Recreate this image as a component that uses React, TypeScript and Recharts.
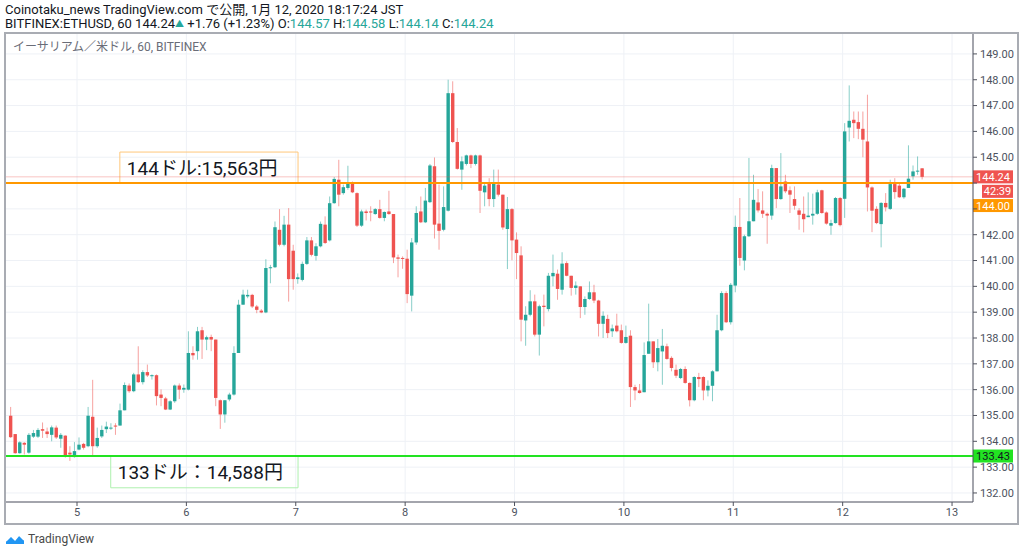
import React from 'react';
import { ComposedChart, Bar, XAxis, YAxis, CartesianGrid, ReferenceLine, ReferenceArea } from 'recharts';

// hourly ETH/USD candles (BITFINEX, 60), Jan 4 -> Jan 12 2020
const OPEN = [
  134.99, 134.28, 133.54, 133.94, 133.56, 134.18, 134.18, 134.47, 134.38, 134.25,
  134.53, 134.1, 134.22, 133.56, 133.39, 133.68, 133.9, 133.81, 134.95, 133.81,
  134.19, 134.47, 134.5, 134.61, 134.61, 135.2, 136.16, 135.94, 136.59, 136.29,
  136.68, 136.52, 136.56, 135.81, 135.66, 135.23, 135.55, 136.16, 136.0, 136.0,
  137.42, 137.49, 138.3, 137.94, 138.04, 137.94, 135.59, 135.04, 135.62, 135.81,
  137.42, 139.29, 139.61, 139.67, 139.22, 139.06, 138.99, 140.71, 140.74, 142.19,
  141.61, 142.39, 141.38, 140.28, 140.25, 140.87, 141.78, 141.18, 141.55, 142.39,
  141.78, 143.22, 144.13, 143.61, 143.81, 144.0, 143.61, 142.35, 142.9, 142.9,
  142.8, 142.99, 142.65, 142.9, 142.8, 141.12, 141.1, 141.07, 139.64, 141.7,
  142.9, 142.48, 143.26, 144.65, 142.43, 142.19, 142.93, 147.48, 145.59, 144.52,
  144.74, 145.07, 144.74, 145.07, 143.64, 144.0, 143.38, 143.94, 143.55, 142.22,
  142.99, 141.81, 141.2, 138.68, 138.9, 139.42, 138.13, 139.25, 139.12, 140.39,
  140.49, 139.87, 140.9, 140.41, 139.94, 140.0, 139.2, 139.51, 139.77, 139.45,
  138.55, 138.74, 138.26, 138.48, 138.3, 137.81, 138.09, 136.1, 135.97, 135.9,
  137.39, 137.87, 137.06, 137.48, 137.68, 137.23, 136.77, 136.45, 136.8, 136.26,
  135.59, 136.49, 136.49, 135.97, 136.15, 136.71, 138.3, 139.74, 138.61, 140.03,
  142.3, 141.0, 141.94, 142.52, 143.25, 142.94, 142.81, 142.74, 144.58, 143.38,
  144.06, 143.72, 143.38, 142.94, 142.81, 142.68, 142.74, 142.81, 143.72, 142.86,
  142.35, 142.45, 143.42, 143.39, 146.15, 146.45, 146.36, 146.1, 145.61, 143.83,
  143.0, 142.41, 143.23, 143.0, 143.96, 143.9, 143.45, 143.81, 144.26, 144.45,
  144.57,
];

const HIGH = [
  135.33, 134.28, 134.0, 133.97, 134.32, 134.44, 134.51, 134.73, 134.53, 134.61,
  134.61, 134.32, 134.23, 133.81, 133.97, 134.15, 133.94, 135.33, 136.38, 134.53,
  134.61, 134.76, 134.7, 134.7, 135.46, 136.28, 136.24, 136.65, 137.68, 136.75,
  136.97, 136.59, 136.59, 136.01, 135.72, 135.59, 136.2, 136.24, 136.2, 138.26,
  137.68, 138.43, 138.43, 138.09, 138.13, 137.94, 135.62, 135.59, 135.88, 137.68,
  139.48, 139.87, 139.87, 139.71, 139.28, 139.12, 141.05, 140.83, 142.51, 142.99,
  142.73, 143.03, 141.61, 140.5, 140.96, 141.91, 141.91, 141.67, 142.51, 142.71,
  143.48, 144.23, 144.9, 143.94, 144.67, 144.06, 143.64, 142.97, 142.97, 143.1,
  143.03, 143.35, 142.9, 143.7, 142.8, 141.23, 141.16, 141.42, 141.87, 143.1,
  143.48, 143.81, 144.74, 144.99, 143.94, 143.87, 148.0, 147.94, 146.13, 145.03,
  145.1, 145.1, 145.1, 145.1, 144.0, 144.19, 144.52, 144.52, 143.55, 143.46,
  143.03, 142.09, 141.55, 139.23, 139.85, 139.68, 139.29, 139.68, 140.52, 141.23,
  140.65, 141.32, 140.97, 140.41, 140.19, 140.0, 139.61, 140.19, 140.06, 139.48,
  139.03, 138.9, 138.52, 138.94, 138.52, 138.48, 138.3, 136.19, 136.22, 137.83,
  139.33, 137.87, 137.96, 138.35, 137.78, 137.29, 136.97, 136.84, 136.9, 136.28,
  136.52, 136.65, 136.52, 136.36, 136.75, 138.9, 139.81, 139.81, 140.13, 142.74,
  143.42, 142.0, 144.97, 144.32, 143.77, 143.68, 142.86, 144.71, 144.58, 145.16,
  144.32, 143.87, 143.87, 143.03, 143.48, 143.64, 143.59, 143.74, 143.74, 142.9,
  142.58, 143.46, 143.46, 146.32, 147.78, 146.77, 146.77, 146.77, 147.42, 143.87,
  143.1, 143.26, 143.61, 144.13, 144.19, 144.04, 143.81, 145.46, 144.68, 145.03,
  144.58,
];

const LOW = [
  134.13, 133.52, 133.52, 133.49, 133.52, 134.13, 134.13, 134.13, 134.13, 134.0,
  134.09, 133.75, 133.37, 133.24, 133.37, 133.65, 133.68, 133.77, 133.43, 133.75,
  134.13, 134.32, 134.44, 134.25, 134.61, 135.2, 135.88, 135.9, 136.26, 136.2,
  136.49, 136.39, 135.39, 135.36, 135.21, 135.21, 135.49, 135.64, 135.88, 135.97,
  137.16, 137.16, 137.19, 137.53, 137.49, 135.36, 134.48, 134.72, 135.55, 135.77,
  137.42, 139.29, 139.54, 139.16, 138.96, 138.96, 138.96, 140.12, 140.71, 141.55,
  141.55, 139.41, 139.87, 140.1, 140.19, 140.83, 141.16, 141.0, 141.51, 141.64,
  141.74, 143.2, 143.1, 143.55, 143.74, 143.61, 142.3, 142.3, 142.55, 142.52,
  142.77, 142.62, 142.52, 142.77, 140.9, 140.35, 140.68, 139.35, 139.03, 141.61,
  142.45, 142.45, 143.23, 141.85, 141.42, 142.13, 142.9, 145.55, 144.52, 143.74,
  144.68, 144.58, 144.68, 142.84, 143.1, 143.1, 143.07, 143.48, 142.19, 140.67,
  141.01, 140.28, 137.87, 137.7, 138.84, 138.06, 137.32, 138.45, 139.03, 140.0,
  139.48, 139.68, 140.39, 139.64, 139.68, 138.77, 138.9, 139.48, 139.35, 138.06,
  138.0, 138.0, 138.04, 138.22, 137.78, 137.78, 135.33, 135.59, 135.85, 135.9,
  137.39, 136.84, 136.71, 136.19, 137.16, 136.71, 136.45, 136.41, 136.23, 135.35,
  135.55, 136.1, 135.59, 135.74, 135.55, 136.71, 138.26, 138.58, 138.52, 139.77,
  140.8, 140.62, 141.91, 142.52, 142.86, 142.65, 141.65, 142.58, 143.03, 143.35,
  143.61, 142.84, 142.97, 142.19, 142.09, 142.68, 142.39, 142.77, 142.81, 142.39,
  142.0, 142.43, 142.32, 142.65, 145.61, 145.74, 145.7, 145.0, 142.9, 142.1,
  142.41, 141.51, 142.9, 142.96, 143.39, 143.42, 143.39, 143.81, 144.13, 144.32,
  144.14,
];

const CLOSE = [
  134.16, 133.54, 133.96, 133.87, 134.25, 134.32, 134.44, 134.41, 134.28, 134.54,
  134.15, 134.25, 133.43, 133.49, 133.62, 133.87, 133.75, 134.99, 133.81, 134.13,
  134.44, 134.57, 134.53, 134.57, 135.2, 136.18, 135.94, 136.59, 136.29, 136.68,
  136.55, 136.56, 135.75, 135.68, 135.23, 135.55, 136.16, 136.0, 136.07, 137.42,
  137.33, 138.26, 137.94, 138.03, 137.94, 135.68, 135.04, 135.59, 135.81, 137.42,
  139.29, 139.68, 139.67, 139.22, 139.09, 138.99, 140.71, 140.74, 142.29, 141.61,
  142.39, 140.28, 140.28, 140.35, 140.87, 141.78, 141.22, 141.55, 142.42, 141.68,
  143.22, 144.16, 143.55, 143.84, 144.0, 143.64, 142.35, 142.9, 142.84, 142.86,
  142.99, 142.65, 142.88, 142.8, 141.12, 141.07, 141.07, 139.7, 141.7, 142.84,
  142.48, 143.32, 144.68, 142.39, 142.15, 143.07, 147.48, 145.59, 144.55, 144.84,
  145.07, 144.74, 145.07, 143.7, 143.9, 143.38, 144.0, 143.55, 142.28, 142.99,
  141.78, 141.29, 138.71, 138.9, 139.42, 138.13, 139.23, 139.2, 140.41, 140.52,
  139.9, 140.88, 140.41, 139.94, 140.03, 139.2, 139.51, 139.77, 139.45, 138.55,
  138.86, 138.19, 138.37, 138.26, 137.81, 138.04, 136.1, 135.97, 135.87, 137.34,
  137.87, 137.06, 137.61, 137.7, 137.19, 136.84, 136.54, 136.8, 136.26, 135.59,
  136.49, 136.41, 135.97, 136.15, 136.71, 138.3, 139.74, 138.61, 140.06, 142.3,
  141.1, 141.94, 142.52, 143.35, 142.94, 142.81, 142.74, 144.58, 143.38, 143.87,
  143.68, 143.55, 143.12, 142.77, 142.6, 142.74, 142.81, 143.64, 142.84, 142.43,
  142.45, 143.42, 142.37, 146.0, 146.41, 146.32, 146.1, 145.68, 143.83, 142.93,
  142.45, 143.23, 143.06, 143.96, 143.65, 143.45, 143.78, 144.17, 144.45, 144.48,
  144.24,
];

const DAY_LABELS = [5, 6, 7, 8, 9, 10, 11, 12, 13];
const FIRST_MIDNIGHT = 14.5; // candle index of Jan 5 00:00
const PRICE_TICKS = [132, 133, 134, 135, 136, 137, 138, 139, 140, 141, 142, 143, 144, 145, 146, 147, 148, 149];
const COVERED_TICKS = [143, 144]; // hidden behind the price badges

const LEVEL_HIGH = 144.0;
const LEVEL_LOW = 133.43;
const LAST_PRICE = CLOSE[CLOSE.length - 1];
const CHANGE = 1.76;
const CHANGE_PCT = 1.23;

const UP = '#26a69a';
const DOWN = '#ef5350';
const ORANGE = '#ff9800';
const GREEN = '#22e322';
const FONT = 'Roboto, "Noto Sans CJK JP", sans-serif';

const data = OPEN.map((o, i) => ({ i, o, h: HIGH[i], l: LOW[i], c: CLOSE[i] }));
const dayTicks = DAY_LABELS.map((_, k) => FIRST_MIDNIGHT + 24 * k);

function Candle(props: any) {
  const { x, y, width, height, payload } = props;
  if (!payload) return null;
  const top = Math.min(y, y + height);
  const bottom = Math.max(y, y + height);
  const { o, h, l, c } = payload;
  const span = h - l || 1;
  const py = (p: number) => top + ((h - p) / span) * (bottom - top);
  const color = c >= o ? UP : DOWN;
  const cx = x + width / 2;
  const bodyTop = py(Math.max(o, c));
  const bodyH = Math.max(1, py(Math.min(o, c)) - bodyTop);
  return (
    <g>
      <line x1={cx} x2={cx} y1={top} y2={bottom} stroke={color} strokeOpacity={0.55} strokeWidth={1} />
      <rect x={cx - 1.7} y={bodyTop} width={3.4} height={bodyH} fill={color} />
    </g>
  );
}

function Badge({ viewBox, text, fill, color, dy, inset = 0 }: any) {
  if (!viewBox) return null;
  const x = viewBox.x + viewBox.width + inset;
  const y = viewBox.y + dy;
  const w = 40 - inset;
  return (
    <g>
      <rect x={x} y={y - 6.5} width={w} height={13} fill={fill} />
      <text x={x + w / 2} y={y + 4} textAnchor="middle" fontSize={11} fill={color} fontFamily={FONT}>
        {text}
      </text>
    </g>
  );
}

function LastPriceLabel(props: any) {
  return (
    <g>
      <Badge {...props} text={LAST_PRICE.toFixed(2)} fill={DOWN} color="#fff" dy={0} />
      <Badge {...props} text="42:39" fill={DOWN} color="#fff" dy={14.5} inset={9} />
    </g>
  );
}

function BoxText({ viewBox, text }: any) {
  if (!viewBox) return null;
  return (
    <text x={viewBox.x + 7} y={viewBox.y + viewBox.height / 2 + 7} fontSize={19} fill="#131722" fontFamily={FONT}>
      {text}
    </text>
  );
}

export default function App() {
  const last = data.length - 1;
  const teal = { color: UP };
  return (
    <div style={{ position: 'absolute', left: 0, top: 0, width: 1024, height: 552, background: '#fff', fontFamily: FONT, overflow: 'hidden' }}>
      <div style={{ position: 'absolute', left: 5, top: 3, fontSize: 13, lineHeight: '14px', color: '#131722', whiteSpace: 'nowrap' }}>
        Coinotaku_news TradingView.com で公開, 1月 12, 2020 18:17:24 JST
      </div>
      <div style={{ position: 'absolute', left: 5, top: 17, fontSize: 13, lineHeight: '14px', color: '#131722', whiteSpace: 'nowrap' }}>
        BITFINEX:ETHUSD, 60 {LAST_PRICE.toFixed(2)}
        <span style={{ ...teal, fontSize: 9, verticalAlign: 'top' }}>▲</span> +{CHANGE.toFixed(2)} (+{CHANGE_PCT.toFixed(2)}%) O:
        <span style={teal}>{OPEN[last].toFixed(2)}</span> H:<span style={teal}>{HIGH[last].toFixed(2)}</span> L:
        <span style={teal}>{LOW[last].toFixed(2)}</span> C:<span style={teal}>{CLOSE[last].toFixed(2)}</span>
      </div>

      <ComposedChart
        width={1024}
        height={552}
        data={data}
        margin={{ top: 33, right: 6, bottom: 28, left: 5 }}
        style={{ position: 'absolute', left: 0, top: 0 }}
      >
        <CartesianGrid stroke="#eef1f6" strokeWidth={1} />
        <XAxis
          dataKey="i"
          type="number"
          domain={[-1.3, 211.1]}
          ticks={dayTicks}
          tickFormatter={(v: number) => String(DAY_LABELS[Math.round((v - FIRST_MIDNIGHT) / 24)])}
          allowDataOverflow
          height={22}
          axisLine={{ stroke: '#50535e' }}
          tickLine={{ stroke: '#50535e' }}
          tickSize={4}
          tick={{ fontSize: 11, fill: '#4c525e', fontFamily: FONT }}
        />
        <YAxis
          orientation="right"
          type="number"
          domain={[131.65, 149.81]}
          ticks={PRICE_TICKS}
          tickFormatter={(v: number) => (COVERED_TICKS.includes(v) ? '' : v.toFixed(2))}
          allowDataOverflow
          width={45}
          axisLine={{ stroke: '#50535e' }}
          tickLine={{ stroke: '#50535e' }}
          tickSize={4}
          tickMargin={3}
          tick={{ fontSize: 11, fill: '#4c525e', fontFamily: FONT }}
        />
        <Bar dataKey={(d: any) => [d.l, d.h]} shape={<Candle />} barSize={4} isAnimationActive={false} />
        <ReferenceLine y={LAST_PRICE} stroke={DOWN} strokeOpacity={0.35} strokeWidth={1} label={<LastPriceLabel />} />
        <ReferenceLine
          y={LEVEL_HIGH}
          stroke={ORANGE}
          strokeWidth={2}
          label={<Badge text={LEVEL_HIGH.toFixed(2)} fill={ORANGE} color="#fff" dy={22.5} />}
        />
        <ReferenceLine
          y={LEVEL_LOW}
          stroke={GREEN}
          strokeWidth={2}
          label={<Badge text={LEVEL_LOW.toFixed(2)} fill={GREEN} color="#131722" dy={0} />}
        />
        <ReferenceArea
          x1={23.9}
          x2={63}
          y1={LEVEL_HIGH}
          y2={145.2}
          fill="none"
          stroke="#ffc77a"
          strokeWidth={1}
          label={<BoxText text="144ドル:15,563円" />}
        />
        <ReferenceArea
          x1={21.9}
          x2={63}
          y1={132.2}
          y2={LEVEL_LOW}
          fill="none"
          stroke="#aef0ae"
          strokeWidth={1}
          label={<BoxText text="133ドル：14,588円" />}
        />
      </ComposedChart>

      <div style={{ position: 'absolute', left: 13, top: 40, fontSize: 12, lineHeight: '14px', color: '#6a6d78', whiteSpace: 'nowrap' }}>
        イーサリアム／米ドル, 60, BITFINEX
      </div>
      <div style={{ position: 'absolute', left: 4, top: 32, width: 1015, height: 493, boxSizing: 'border-box', border: '2px solid #a9acb3', pointerEvents: 'none' }} />

      <div style={{ position: 'absolute', left: 5, top: 532, display: 'flex', alignItems: 'center', gap: 3 }}>
        <svg width={20} height={12} viewBox="0 0 20 12">
          <path d="M1 11 L1 8 L6 3 L10 7 L14 2 L19 7 L19 11 Z" fill="#2196f3" />
          <path d="M1 8 L6 3 L10 7 L14 2 L19 7" fill="none" stroke="#fff" strokeWidth={1.4} />
        </svg>
        <span style={{ fontSize: 12, color: '#4a4a4a' }}>TradingView</span>
      </div>
    </div>
  );
}
